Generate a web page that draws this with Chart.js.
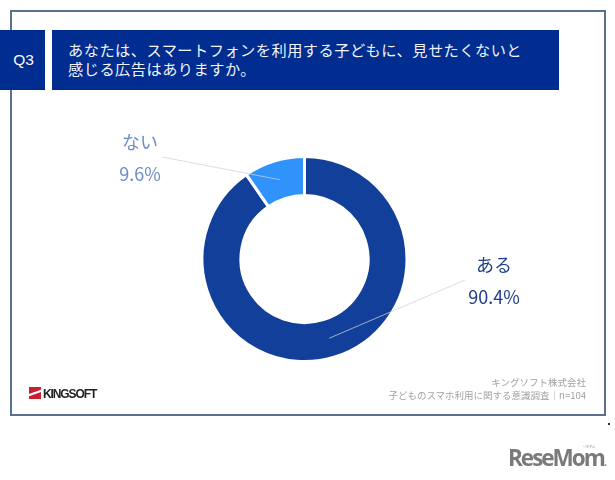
<!DOCTYPE html>
<html lang="ja">
<head>
<meta charset="utf-8">
<style>
    html, body { margin: 0; padding: 0; background: #fff; }
    body { width: 615px; height: 480px; position: relative; overflow: hidden; font-family: "Noto Sans CJK JP", sans-serif; }
    #analyticsChart { position: absolute; left: 0; top: 0; }
    .frame { position: absolute; left: 10px; top: 10px; width: 592px; height: 402px; border: 2px solid #5a7090; }
    .q { position: absolute; left: 0; top: 30px; width: 45px; height: 60px; background: #002d8f; color: #fff; font: 15.5px/60px "Liberation Sans", Arial, sans-serif; text-align: center; padding-left: 2px; box-sizing: border-box; }
    .title { position: absolute; left: 52px; top: 30px; width: 507px; height: 60px; background: #002d8f; color: #f2f4fa; font-size: 15.2px; line-height: 19px; padding: 10px 0 0 16px; box-sizing: border-box; letter-spacing: 0.5px; white-space: nowrap; }
    .source { position: absolute; right: 29px; top: 376px; color: #a2a2a2; font-size: 9.5px; line-height: 13px; text-align: right; white-space: nowrap; }
    .logo-mark { position: absolute; left: 29px; top: 387px; width: 12px; height: 12px; background: #c8202f; overflow: hidden; }
    .logo-mark i { position: absolute; left: -2px; top: 5px; width: 16px; height: 2px; background: #fff; transform: rotate(-20deg); }
    .logo { position: absolute; left: 43px; top: 386px; font: bold 12px/16px "Liberation Sans", Arial, sans-serif; letter-spacing: -1.1px; color: #222; }
    .resemom { position: absolute; left: 508px; top: 444px; font: bold 22.5px/27px "Open Sans", sans-serif; letter-spacing: -2px; color: #7a7a7a; white-space: nowrap; }
    .ruby { position: absolute; left: 583px; top: 445px; font-size: 3px; line-height: 4px; color: #7a7a7a; }
    .speck { position: absolute; left: 608px; top: 423px; width: 2px; height: 2px; background: #333; }
</style>
</head>
<body>
<canvas id="analyticsChart" width="615" height="480"></canvas>
<div class="frame"></div>
<div class="q">Q3</div>
<div class="title">あなたは、スマートフォンを利用する子どもに、見せたくないと<br>感じる広告はありますか。</div>
<div class="source">キングソフト株式会社<br>子どものスマホ利用に関する意識調査｜n=104</div>
<div class="logo-mark"><i></i></div>
<div class="logo">KINGSOFT</div>
<div class="resemom">ReseMom<span style="font-size:10px">.</span></div>
<div class="ruby">リセマム</div>
<div class="speck"></div>
<script src="https://cdn.jsdelivr.net/npm/chart.js@4/dist/chart.umd.min.js"></script>
<script>
const categories = ['ある', 'ない'];
const shares = [90.4, 9.6];
const sliceColors = ['#123f99', '#2f93fb'];
const labelColors = ['#1f3f86', '#6c8dc8'];

// where each outside label sits and where its leader line ends
const labelSpots = [{ x: 494, y: 265, lineX: 465, lineY: 280 }, { x: 140, y: 142, lineX: 162, lineY: 157 }];

const outsideLabels = {
    id: 'outsideLabels',
    afterDatasetsDraw(chart) {
        const { ctx } = chart;
        const arcs = chart.getDatasetMeta(0).data;
        ctx.save();
        arcs.forEach((arc, i) => {
            const start = arc.tooltipPosition();
            const spot = labelSpots[i];
            ctx.strokeStyle = 'rgba(205, 210, 220, 0.75)';
            ctx.lineWidth = 1;
            ctx.beginPath();
            ctx.moveTo(start.x, start.y);
            ctx.lineTo(spot.lineX, spot.lineY);
            ctx.stroke();

            ctx.fillStyle = labelColors[i];
            ctx.textAlign = 'center';
            ctx.textBaseline = 'middle';
            ctx.font = '18px "Noto Sans CJK JP"';
            ctx.fillText(categories[i], spot.x, spot.y);
            ctx.fillText(shares[i] + '%', spot.x, spot.y + 32);
        });
        ctx.restore();
    }
};

new Chart(document.getElementById('analyticsChart').getContext('2d'), {
    type: 'doughnut',
    data: {
        labels: categories,
        datasets: [{
            data: shares,
            backgroundColor: sliceColors,
            borderColor: '#fff',
            borderWidth: 3
        }]
    },
    options: {
        responsive: false,
        animation: false,
        cutout: '62%',
        layout: { padding: { left: 0, right: 6, top: 155, bottom: 117 } },
        plugins: { legend: { display: false }, tooltip: { enabled: false } }
    },
    plugins: [outsideLabels]
});
</script>
</body>
</html>
